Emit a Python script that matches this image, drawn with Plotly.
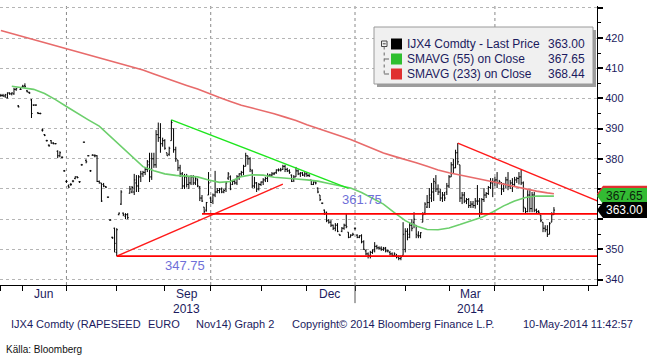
import plotly.graph_objects as go
import pandas as pd

# ---------------- data ----------------
holidays = ["2014-05-01"]
axis_dates = [d for d in pd.bdate_range("2013-05-20", "2014-06-30")
              if d.strftime("%Y-%m-%d") not in holidays]

opens = [
    401.0, 401.0, 400.8, 400.2, 401.8, 401.5, 401.5, 403.0, 397.5, 403.0,
    403.8, 404.2, 402.5, 402.0, 399.5, 397.8, 397.8, 395.2, 395.0, 389.5,
    388.0, 386.0, 384.5, 386.0, 385.2, 385.0, 382.5, 381.0, 380.5, 376.0,
    372.5, 371.0, 371.5, 372.6, 373.5, 374.0, 372.4, 378.0, 385.5, 379.5,
    381.0, 376.0, 381.2, 381.0, 381.0, 372.5, 372.0, 371.5, 370.8, 367.3,
    359.7, 354.0, 357.0, 349.0, 361.5, 365.0, 362.0, 361.0, 361.5, 368.6,
    369.0, 369.0, 372.0, 371.0, 374.0, 375.0, 375.5, 376.5, 378.0, 374.0,
    380.0, 378.0, 388.0, 387.0, 385.0, 386.0, 382.0, 381.5, 386.0, 390.0,
    383.0, 379.6, 377.0, 375.0, 371.0, 374.0, 371.5, 372.0, 374.0, 372.0,
    373.0, 370.6, 367.0, 364.0, 363.0, 368.0, 367.0, 366.0, 368.0, 369.0,
    369.5, 370.0, 369.0, 370.0, 373.6, 374.0, 371.5, 372.5, 372.0, 374.0,
    375.0, 375.5, 377.5, 381.0, 380.0, 376.0, 371.0, 372.0, 370.0, 371.5,
    372.3, 373.0, 373.5, 374.5, 374.6, 375.0, 375.5, 376.3, 376.3, 376.5,
    377.5, 376.5, 376.0, 374.6, 373.0, 374.0, 376.0, 375.0, 375.3, 374.6,
    375.0, 374.5, 373.0, 371.5, 372.3, 370.3, 368.0, 365.3, 363.0, 362.3,
    359.7, 359.0, 358.0, 357.0, 358.0, 355.0, 356.0, 357.0, 358.0, 355.7,
    354.0, 354.7, 357.0, 354.7, 354.0, 354.5, 352.5, 349.5, 348.5, 348.0,
    349.0, 350.0, 351.0, 350.5, 350.4, 350.0, 350.4, 349.5, 349.0, 348.5,
    348.0, 348.0, 347.5, 347.0, 348.0, 350.0, 356.0, 355.0, 358.0, 359.0,
    358.0, 354.5, 354.5, 359.0, 362.0, 364.0, 365.5, 367.0, 369.0, 372.0,
    370.0, 369.0, 367.0, 368.0, 369.0, 371.0, 374.0, 378.0, 377.0, 382.0,
    378.0, 367.0, 368.0, 366.0, 366.5, 364.5, 365.0, 364.5, 366.0, 366.0,
    362.0, 366.5, 368.0, 368.5, 370.5, 372.0, 372.5, 373.0, 372.0, 372.0,
    370.0, 371.5, 373.0, 371.0, 372.0, 371.5, 373.0, 373.5, 374.0, 372.0,
    363.7, 362.5, 368.0, 363.5, 368.0, 363.0, 362.5, 361.4, 359.0, 357.0,
    356.5, 355.0, 359.0, 361.5,
]
highs = [
    401.5, 401.5, 401.5, 402.0, 402.0, 402.0, 403.5, 403.5, 397.8, 403.5,
    404.5, 405.0, 402.8, 402.2, 399.8, 398.0, 398.0, 395.5, 395.3, 390.0,
    388.2, 386.3, 384.8, 386.2, 385.5, 385.2, 382.8, 382.5, 380.8, 376.3,
    373.0, 371.5, 372.0, 373.0, 374.2, 374.2, 372.6, 378.3, 385.7, 379.8,
    381.2, 376.3, 381.5, 381.5, 381.2, 372.8, 372.0, 372.0, 371.0, 367.5,
    360.0, 354.2, 357.2, 357.0, 362.2, 369.6, 362.2, 362.0, 362.0, 371.0,
    371.0, 375.0, 374.6, 374.6, 376.0, 376.0, 377.0, 379.6, 382.0, 382.0,
    382.0, 389.5, 392.0, 391.8, 387.0, 386.5, 382.0, 384.0, 392.9, 390.0,
    384.0, 379.6, 378.0, 375.6, 375.0, 375.0, 374.0, 374.6, 374.6, 374.0,
    373.5, 371.0, 368.0, 364.0, 365.7, 375.6, 367.5, 368.5, 376.0, 370.3,
    370.3, 370.5, 370.0, 372.3, 375.6, 374.5, 373.0, 373.0, 374.6, 375.2,
    376.0, 378.0, 382.0, 381.0, 380.5, 376.5, 374.0, 372.3, 372.0, 372.5,
    373.6, 374.0, 375.2, 375.0, 375.6, 375.6, 376.5, 376.8, 377.0, 378.0,
    378.0, 377.0, 376.5, 374.8, 374.6, 377.3, 376.5, 375.6, 375.6, 375.6,
    375.6, 375.0, 373.0, 372.5, 372.5, 370.5, 368.0, 365.5, 363.2, 362.5,
    360.0, 359.7, 358.2, 358.7, 358.7, 355.0, 357.4, 358.5, 362.0, 355.7,
    355.0, 355.5, 357.2, 355.0, 354.7, 355.0, 353.0, 350.0, 349.0, 349.5,
    350.0, 352.4, 351.5, 351.0, 351.0, 350.8, 350.8, 350.0, 349.5, 349.0,
    349.0, 348.5, 348.0, 348.0, 359.0, 357.0, 357.0, 359.0, 360.0, 362.3,
    358.0, 356.0, 355.7, 362.3, 365.6, 368.0, 370.3, 372.0, 373.6, 374.6,
    371.5, 370.0, 369.0, 369.0, 372.0, 374.6, 378.9, 380.0, 383.0, 385.2,
    378.0, 369.0, 369.0, 367.0, 367.0, 366.0, 366.0, 367.0, 371.3, 367.0,
    367.0, 370.3, 369.0, 371.0, 373.6, 373.6, 374.0, 375.6, 373.0, 372.3,
    372.0, 374.0, 375.6, 373.0, 373.6, 374.0, 374.0, 375.6, 376.3, 372.5,
    363.7, 369.6, 369.6, 369.0, 369.0, 363.5, 363.0, 361.4, 359.0, 358.0,
    358.0, 359.0, 362.3, 364.0,
]
lows = [
    400.5, 400.5, 400.2, 400.0, 401.2, 401.0, 401.2, 402.5, 397.0, 402.8,
    403.5, 403.5, 402.0, 401.5, 393.5, 397.5, 397.5, 394.8, 394.7, 389.0,
    387.5, 385.7, 384.0, 385.0, 384.8, 384.8, 380.2, 380.5, 380.2, 375.7,
    372.0, 370.4, 371.0, 372.2, 373.2, 373.5, 372.0, 377.7, 385.3, 378.5,
    380.8, 375.7, 381.0, 380.5, 372.3, 371.8, 365.7, 370.6, 370.3, 367.0,
    359.5, 353.5, 349.0, 347.75, 361.3, 364.7, 361.0, 360.0, 360.0, 368.5,
    368.6, 368.0, 369.0, 369.0, 372.3, 374.0, 374.6, 375.6, 372.3, 373.0,
    377.0, 377.0, 385.6, 382.0, 384.0, 383.0, 381.0, 381.0, 386.0, 382.0,
    379.0, 376.0, 374.0, 370.0, 370.0, 370.5, 370.0, 371.3, 371.3, 371.3,
    370.6, 366.0, 365.7, 362.0, 362.5, 368.0, 365.3, 365.0, 367.3, 368.6,
    368.6, 368.6, 368.6, 369.0, 373.0, 369.6, 371.3, 371.5, 371.3, 373.0,
    374.0, 374.6, 377.5, 378.0, 375.6, 370.3, 370.3, 369.0, 369.5, 371.0,
    371.3, 372.3, 372.3, 374.0, 374.3, 374.6, 375.0, 375.8, 375.8, 376.3,
    375.6, 375.6, 375.0, 372.3, 372.3, 374.0, 374.6, 374.0, 374.3, 374.0,
    374.0, 374.0, 371.3, 371.3, 371.5, 368.6, 366.0, 365.0, 361.4, 359.0,
    358.5, 357.4, 356.4, 356.0, 355.7, 354.5, 355.7, 356.5, 357.0, 353.7,
    354.0, 354.5, 356.5, 353.7, 353.7, 352.0, 349.8, 348.0, 347.0, 347.0,
    348.5, 349.0, 350.0, 350.0, 349.5, 349.5, 349.0, 349.0, 348.0, 347.5,
    347.5, 347.0, 346.4, 346.4, 348.0, 349.0, 353.0, 353.7, 356.0, 357.0,
    353.7, 353.7, 353.7, 359.0, 361.4, 363.7, 363.7, 365.7, 366.0, 369.0,
    368.0, 366.0, 365.7, 366.0, 368.0, 370.3, 374.0, 375.0, 376.9, 378.0,
    365.7, 365.0, 365.3, 365.0, 363.7, 363.7, 363.7, 363.5, 364.7, 360.7,
    361.5, 365.7, 367.0, 368.0, 370.0, 367.3, 371.0, 370.3, 371.5, 368.0,
    369.0, 370.3, 369.6, 370.0, 369.0, 371.0, 372.0, 371.5, 371.3, 362.3,
    362.0, 362.3, 362.3, 362.3, 362.3, 362.0, 362.0, 359.0, 355.7, 355.7,
    354.1, 355.0, 359.0, 361.4,
]
closes = [
    401.0, 400.8, 401.2, 401.8, 401.5, 401.8, 403.0, 403.2, 397.2, 403.0,
    404.0, 404.0, 402.2, 401.8, 395.0, 397.8, 397.8, 395.0, 395.0, 389.5,
    387.8, 386.0, 384.3, 385.2, 385.0, 385.0, 381.0, 382.0, 380.5, 376.0,
    372.5, 370.6, 371.5, 372.6, 374.0, 373.8, 372.4, 378.0, 385.5, 379.0,
    381.0, 376.0, 381.2, 381.0, 372.5, 372.0, 366.0, 371.0, 370.6, 367.3,
    359.7, 353.8, 352.0, 356.5, 362.0, 369.0, 361.5, 361.5, 360.5, 370.0,
    370.5, 373.0, 371.0, 374.0, 375.0, 375.5, 376.5, 379.0, 374.0, 380.0,
    378.0, 388.0, 387.0, 385.0, 386.0, 383.5, 381.0, 383.5, 392.0, 383.0,
    380.0, 377.0, 375.0, 371.0, 374.0, 371.5, 372.0, 374.0, 372.0, 373.5,
    371.0, 367.0, 366.0, 362.5, 365.5, 372.0, 365.5, 368.0, 369.0, 369.5,
    370.0, 369.0, 369.5, 372.0, 375.0, 370.0, 372.5, 372.0, 374.0, 375.0,
    375.5, 377.5, 381.0, 380.0, 376.5, 371.0, 372.0, 370.0, 371.5, 372.3,
    373.0, 373.5, 374.5, 374.6, 375.0, 375.2, 376.3, 376.3, 376.3, 377.5,
    376.5, 376.0, 375.5, 372.5, 374.0, 376.0, 375.0, 375.3, 374.6, 375.0,
    374.5, 374.3, 371.5, 372.3, 372.0, 369.0, 366.5, 365.3, 361.8, 359.5,
    359.0, 358.0, 357.0, 358.0, 356.0, 354.7, 357.0, 358.0, 357.5, 354.0,
    354.7, 355.0, 357.0, 354.0, 354.5, 352.5, 350.0, 348.5, 348.0, 349.0,
    349.5, 351.0, 350.5, 350.4, 350.0, 350.4, 349.5, 349.5, 348.5, 348.0,
    348.5, 347.5, 347.0, 347.5, 355.0, 356.0, 354.0, 358.0, 357.0, 360.0,
    355.0, 354.5, 355.5, 361.5, 365.0, 365.5, 368.0, 369.0, 372.5, 370.0,
    369.0, 367.0, 368.0, 367.0, 371.0, 374.0, 378.0, 377.0, 382.0, 379.0,
    367.0, 368.0, 366.0, 366.5, 364.5, 365.0, 364.5, 366.0, 366.0, 362.0,
    366.5, 368.0, 368.5, 370.5, 372.0, 372.5, 373.0, 372.0, 372.5, 370.0,
    371.5, 373.0, 371.0, 372.0, 371.5, 373.0, 373.5, 374.0, 372.0, 364.0,
    362.5, 368.0, 363.5, 368.0, 363.0, 362.5, 362.3, 359.5, 357.0, 356.5,
    355.0, 358.5, 361.5, 363.0,
]

# moving averages read every 5th trading day (plus the last day)
sma_step = 5
sma55 = [
    None, 404.0, 403.6, 403.0, 401.6, 399.6, 397.3, 395.0, 392.9, 390.8,
    387.4, 384.0, 380.5, 377.4, 376.0, 375.0, 374.5, 374.2, 374.0, 373.0,
    372.2, 372.5, 374.1, 374.7, 374.6, 373.9, 373.5, 373.3, 373.0, 372.6,
    371.8, 371.0, 370.3, 368.8, 366.9, 365.0, 362.2, 359.5, 357.7, 356.6,
    356.5, 357.1, 358.2, 359.3, 360.6, 362.4, 364.4, 366.0, 367.2, 367.7,
    367.7, 367.65,
]
sma233 = [
    422.5, 421.5, 420.5, 419.5, 418.5, 417.5, 416.3, 415.3, 414.5, 413.5,
    412.5, 411.4, 410.4, 409.4, 408.1, 406.8, 405.4, 404.3, 403.1, 401.6,
    400.3, 399.0, 397.7, 396.8, 395.9, 394.9, 393.8, 392.7, 391.3, 390.0,
    388.8, 387.6, 386.4, 384.9, 383.4, 381.9, 380.8, 379.8, 378.7, 377.5,
    376.3, 375.4, 374.7, 374.0, 373.2, 372.4, 371.6, 370.8, 370.0, 369.3,
    368.7, 368.44,
]

# drawn analysis lines (dates, values)
support_dates, support_vals = ["2013-08-01", "2013-11-15"], [347.75, 371.6]
green_res_dates, green_res_vals = ["2013-09-05", "2013-12-27"], [392.9, 370.2]
red_res_dates, red_res_vals = ["2014-03-07", "2014-06-09"], [385.2, 365.7]
levels = [347.75, 361.75]
level_starts = ["2013-08-01", "2013-09-25"]
level_label_dates = ["2013-09-13", "2014-01-06"]

legend_names = ["IJX4 Comdty - Last Price", "SMAVG (55) on Close", "SMAVG (233) on Close"]
legend_values = ["363.00", "367.65", "368.44"]

y_ticks = [340, 350, 360, 370, 380, 390, 400, 410, 420, 430]
y_ticktext = ["340", "350", "", "", "380", "390", "400", "410", "420", ""]

label_months = [(2013, 6, "Jun"), (2013, 9, "Sep"), (2013, 12, "Dec"), (2014, 3, "Mar")]
year_labels = [(2013, 9, "2013"), (2014, 3, "2014")]

# ---------------- helpers ----------------
pos = {d.strftime("%Y-%m-%d"): i for i, d in enumerate(axis_dates)}
n = len(closes)
xs = list(range(n))

month_first = {}
for i, d in enumerate(axis_dates):
    month_first.setdefault((d.year, d.month), i)
month_start_pos = [v for v in month_first.values()]
quarter_pos = [v for (y, m), v in month_first.items() if m in (1, 4, 7, 10)]


def month_mid(yy, mm):
    idx = [i for i, d in enumerate(axis_dates) if d.year == yy and d.month == mm]
    return sum(idx) / len(idx)


W, H = 647, 359
L, R, T, B = 0, 50, 6, 74
PW, PH = W - L - R, H - T - B


def px(x):
    return (x - L) / PW


def py(y):
    return (H - B - y) / PH


navy = "#1b1b5e"
FONT = "Liberation Sans, Arial, sans-serif"

fig = go.Figure()

# price bars
fig.add_trace(go.Ohlc(
    x=xs, open=opens, high=highs, low=lows, close=closes,
    increasing=dict(line=dict(color="black", width=1)),
    decreasing=dict(line=dict(color="black", width=1)),
    tickwidth=0.5, hoverinfo="skip", showlegend=False,
))

sma_x = list(range(0, n, sma_step)) + [n - 1]
fig.add_trace(go.Scatter(x=sma_x, y=sma233, mode="lines",
                         line=dict(color="#e86b6b", width=1.6), hoverinfo="skip"))
fig.add_trace(go.Scatter(x=sma_x, y=sma55, mode="lines",
                         line=dict(color="#6ccf6c", width=1.6), hoverinfo="skip"))

# analysis lines
fig.add_trace(go.Scatter(x=[pos[d] for d in support_dates], y=support_vals, mode="lines",
                         line=dict(color="#ff1a1a", width=1.4), hoverinfo="skip"))
fig.add_trace(go.Scatter(x=[pos[d] for d in green_res_dates], y=green_res_vals, mode="lines",
                         line=dict(color="#1ee61e", width=1.4), hoverinfo="skip"))
fig.add_trace(go.Scatter(x=[pos[d] for d in red_res_dates], y=red_res_vals, mode="lines",
                         line=dict(color="#ff1a1a", width=1.4), hoverinfo="skip"))
far = len(axis_dates) - 1
for lv, st in zip(levels, level_starts):
    fig.add_trace(go.Scatter(x=[pos[st], far], y=[lv, lv], mode="lines",
                             line=dict(color="#ff0000", width=1.8), hoverinfo="skip"))

shapes = []
# quarter gridlines
for q in quarter_pos:
    shapes.append(dict(type="line", xref="x", yref="paper", x0=q, x1=q, y0=0, y1=1,
                       line=dict(color="#8a8a8a", width=1, dash="dot"), layer="below"))
# year separator under the axis
jan = month_first[(2014, 1)]
shapes.append(dict(type="line", xref="x", yref="paper", x0=jan, x1=jan, y0=0, y1=-0.065,
                   line=dict(color="#555555", width=1)))


# right-hand value labels
def value_label(v, fill):
    h = 8 / 3.02
    x0, x1, x2 = 1.0, 1.0 + 6 / PW, 1.0 + 52 / PW
    return dict(type="path", xref="paper", yref="y",
                path=f"M {x0},{v} L {x1},{v + h} L {x2},{v + h} L {x2},{v - h} L {x1},{v - h} Z",
                fillcolor=fill, line=dict(color=fill, width=0), layer="above")


shapes.append(value_label(368.44, "#e03030"))
shapes.append(value_label(367.65, "#33bb33"))
shapes.append(value_label(363.00, "#000000"))

# legend box
bx0, bx1, by0, by1 = 374, 593, 27, 84
shapes.append(dict(type="rect", xref="paper", yref="paper",
                   x0=px(bx0 + 3), x1=px(bx1 + 3), y0=py(by1 + 3), y1=py(by0 + 3),
                   fillcolor="#9d9d9d", line=dict(width=0), layer="above"))
shapes.append(dict(type="rect", xref="paper", yref="paper",
                   x0=px(bx0), x1=px(bx1), y0=py(by1), y1=py(by0),
                   fillcolor="#f0f0f0", line=dict(color="#9a9a9a", width=1), layer="above"))
# tree glyph
shapes.append(dict(type="rect", xref="paper", yref="paper",
                   x0=px(381.5), x1=px(387), y0=py(46.5), y1=py(41),
                   fillcolor="#f0f0f0", line=dict(color="#444444", width=1), layer="above"))
shapes.append(dict(type="line", xref="paper", yref="paper",
                   x0=px(382.8), x1=px(385.7), y0=py(43.8), y1=py(43.8),
                   line=dict(color="#444444", width=1), layer="above"))
shapes.append(dict(type="line", xref="paper", yref="paper",
                   x0=px(384.2), x1=px(384.2), y0=py(46.5), y1=py(74),
                   line=dict(color="#666666", width=1, dash="dot"), layer="above"))
for ry in (59, 74):
    shapes.append(dict(type="line", xref="paper", yref="paper",
                       x0=px(384.2), x1=px(389), y0=py(ry), y1=py(ry),
                       line=dict(color="#666666", width=1), layer="above"))
row_y = [44, 59, 74]
sq_cols = ["#000000", "#2fbf2f", "#e03030"]
for ry, c in zip(row_y, sq_cols):
    shapes.append(dict(type="rect", xref="paper", yref="paper",
                       x0=px(391), x1=px(402), y0=py(ry + 5.5), y1=py(ry - 5.5),
                       fillcolor=c, line=dict(width=0), layer="above"))

annotations = []
for ry, name, val in zip(row_y, legend_names, legend_values):
    annotations.append(dict(xref="paper", yref="paper", x=px(405), y=py(ry), text=name,
                            xanchor="left", yanchor="middle", showarrow=False,
                            font=dict(family=FONT, size=12, color=navy)))
    annotations.append(dict(xref="paper", yref="paper", x=px(587), y=py(ry), text=val,
                            xanchor="right", yanchor="middle", showarrow=False,
                            font=dict(family=FONT, size=12, color=navy)))

# value label texts
for v, txt, col in [(367.65, legend_values[1], "#0b1f0b"), (363.00, legend_values[0], "#ffffff")]:
    annotations.append(dict(xref="paper", yref="y", x=1.0 + 7 / PW, y=v, text=txt,
                            xanchor="left", yanchor="middle", showarrow=False,
                            font=dict(family=FONT, size=12, color=col)))

# level labels
for lv, d, ys in zip(levels, level_label_dates, [-9, 14]):
    annotations.append(dict(xref="x", yref="y", x=pos[d], y=lv, yshift=ys, text=f"{lv:.2f}",
                            xanchor="center", yanchor="middle", showarrow=False,
                            font=dict(family=FONT, size=13, color="#6f6fd8")))

# month and year labels under the axis
for yy, mm, t in label_months:
    annotations.append(dict(xref="x", yref="paper", x=month_mid(yy, mm), y=py(294), text=t,
                            xanchor="center", yanchor="middle", showarrow=False,
                            font=dict(family=FONT, size=12, color=navy)))
for yy, mm, t in year_labels:
    annotations.append(dict(xref="x", yref="paper", x=month_mid(yy, mm), y=py(308.5), text=t,
                            xanchor="center", yanchor="middle", showarrow=False,
                            font=dict(family=FONT, size=12, color=navy)))

# footer
footer = [(9, "IJX4 Comdty (RAPESEED"), (146, "EURO"), (194, "Nov14) Graph 2"),
          (290, "Copyright© 2014 Bloomberg Finance L.P."), (521, "10-May-2014 11:42:57")]
for fx, ft in footer:
    annotations.append(dict(xref="paper", yref="paper", x=px(fx), y=py(323.5), text=ft,
                            xanchor="left", yanchor="middle", showarrow=False,
                            font=dict(family=FONT, size=11, color=navy)))
annotations.append(dict(xref="paper", yref="paper", x=px(4), y=py(349), text="Källa: Bloomberg",
                        xanchor="left", yanchor="middle", showarrow=False,
                        font=dict(family=FONT, size=10, color="#111111")))

fig.update_layout(
    width=W, height=H, margin=dict(l=L, r=R, t=T, b=B),
    paper_bgcolor="white", plot_bgcolor="white", showlegend=False,
    font=dict(family=FONT, size=11, color=navy),
    xaxis=dict(range=[-0.4, PW / 2.186 - 0.4], showgrid=False, zeroline=False,
               showline=True, linecolor="black", linewidth=1,
               tickmode="array", tickvals=month_start_pos, ticks="outside",
               ticklen=5, tickwidth=1, tickcolor="black", showticklabels=False,
               rangeslider=dict(visible=False), fixedrange=True),
    yaxis=dict(side="right", range=[338.2, 430.6], tickmode="array",
               tickvals=y_ticks, ticktext=y_ticktext, ticks="outside", ticklen=5,
               tickwidth=2, tickcolor="black", showline=True, linecolor="black", linewidth=1,
               showgrid=True, gridcolor="#b5b5b5", griddash="dot", gridwidth=1,
               zeroline=False, tickfont=dict(family=FONT, size=11, color=navy),
               minor=dict(tickmode="array", tickvals=[v + 5 for v in y_ticks[:-1]],
                          ticks="outside", ticklen=3, tickwidth=1, tickcolor="black",
                          showgrid=False),
               fixedrange=True),
    shapes=shapes, annotations=annotations,
)

fig.write_html("out.html", config={"displayModeBar": False},
               post_script="document.body.style.margin='0';")
